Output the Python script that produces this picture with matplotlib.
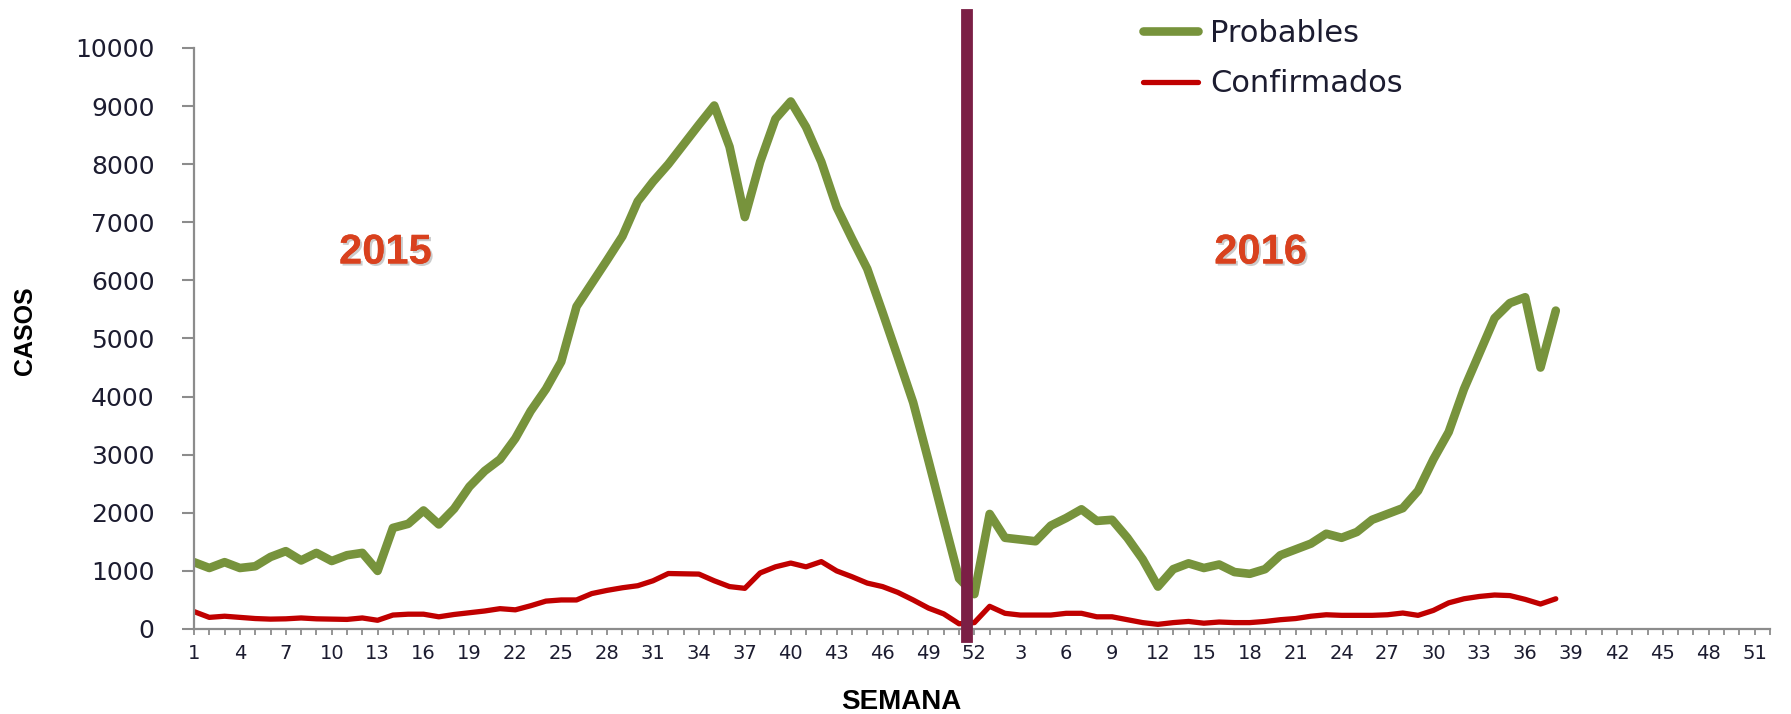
import matplotlib
matplotlib.use('Agg')
import matplotlib.pyplot as plt
import matplotlib.patheffects as pe

# semanas epidemiologicas 2015 y 2016 (categorias del eje x)
semanas_2015 = list(range(1, 53))
semanas_2016 = list(range(1, 53))
semanas = semanas_2015 + semanas_2016

# casos por semana (2015 completo, 2016 hasta la semana 38)
probables = [1150, 1050, 1150, 1050, 1080, 1240, 1340, 1180, 1310, 1170,
             1270, 1310, 1000, 1740, 1810, 2040, 1800, 2070, 2450, 2720,
             2920, 3280, 3750, 4130, 4600, 5550, 5950, 6350, 6760, 7360,
             7700, 8000, 8340, 8680, 9010, 8300, 7090, 8040, 8780, 9080,
             8640, 8040, 7260, 6720, 6200, 5450, 4680, 3900, 2900, 1880,
             870, 600,
             1980, 1570, 1540, 1510, 1780, 1910, 2060, 1860, 1880, 1570,
             1200, 730, 1030, 1130, 1050, 1110, 980, 950, 1030, 1270,
             1370, 1470, 1640, 1570, 1670, 1880, 1980, 2080, 2380, 2920,
             3390, 4130, 4740, 5350, 5610, 5710, 4500, 5480]

confirmados = [300, 200, 220, 200, 180, 170, 175, 190, 175, 170,
               165, 190, 150, 240, 255, 255, 210, 250, 280, 310,
               350, 330, 400, 480, 500, 500, 610, 665, 710, 745,
               830, 955, 950, 945, 830, 730, 700, 965, 1070, 1135,
               1070, 1160, 1000, 900, 790, 730, 630, 500, 360, 260,
               90, 110,
               390, 270, 240, 240, 240, 270, 270, 210, 210, 160,
               110, 80, 110, 130, 100, 120, 110, 110, 130, 160,
               180, 220, 245, 235, 235, 235, 245, 275, 235, 320,
               450, 520, 560, 585, 575, 510, 430, 520]

W, H = 1791, 714
fig = plt.figure(figsize=(W / 100, H / 100), dpi=100)
ax = fig.add_axes([194 / W, 1 - 629 / H, 1576 / W, 581 / H])

x_prob = list(range(len(probables)))
x_conf = list(range(len(confirmados)))

lp, = ax.plot(x_prob, probables, color='#77933C', lw=6.2,
              solid_joinstyle='round', solid_capstyle='round', label='Probables')
lc, = ax.plot(x_conf, confirmados, color='#C00000', lw=3.8,
              solid_joinstyle='round', solid_capstyle='round', label='Confirmados')

# separacion entre 2015 y 2016
ax.axvline(len(semanas_2015) - 1.5, ymin=-0.014, ymax=1.056, color='#7B1F45',
           lw=8.5, clip_on=False, zorder=5)

ax.set_xlim(0, len(semanas) - 1)
ax.set_ylim(0, 10000)
ax.set_yticks(range(0, 10001, 1000))
ax.set_xticks(range(len(semanas)), minor=True)
ax.set_xticks(range(0, len(semanas), 3))
ax.set_xticklabels([str(semanas[i]) for i in range(0, len(semanas), 3)])

for s in ['top', 'right']:
    ax.spines[s].set_visible(False)
for s in ['left', 'bottom']:
    ax.spines[s].set_color('#8c8c8c')
    ax.spines[s].set_linewidth(1.6)

ax.tick_params(axis='y', length=8.5, width=1.5, color='#8c8c8c', pad=20,
               labelsize=18, labelcolor='#1c1c30')
ax.tick_params(axis='x', which='both', length=4, width=1.3, color='#8c8c8c',
               pad=7, labelsize=14, labelcolor='#1c1c30')

fig.text(25 / W, 1 - 331 / H, 'CASOS', rotation=90, ha='center', va='center',
         fontsize=18, fontweight='bold', family='Liberation Sans')
fig.text(901 / W, 1 - 702 / H, 'SEMANA', ha='center', va='center',
         fontsize=20, fontweight='bold', family='Liberation Sans')

sombra = [pe.withSimplePatchShadow(offset=(1.5, -1.5), shadow_rgbFace='#999999', alpha=0.5),
          pe.Normal()]
ax.text(12.5, 6480, '2015', ha='center', va='center', fontsize=30,
        fontweight='bold', family='Liberation Sans', color='#D9411E', path_effects=sombra)
ax.text(69.7, 6480, '2016', ha='center', va='center', fontsize=30,
        fontweight='bold', family='Liberation Sans', color='#D9411E', path_effects=sombra)

fig.legend(handles=[lp, lc], loc='upper left', bbox_to_anchor=(1143 / W, 1 - 19 / H),
           frameon=False, fontsize=22, handlelength=1.8, handletextpad=0.4,
           labelspacing=0.7, borderpad=0, borderaxespad=0, labelcolor='#1c1c30')

fig.savefig('out.png', dpi=100)
